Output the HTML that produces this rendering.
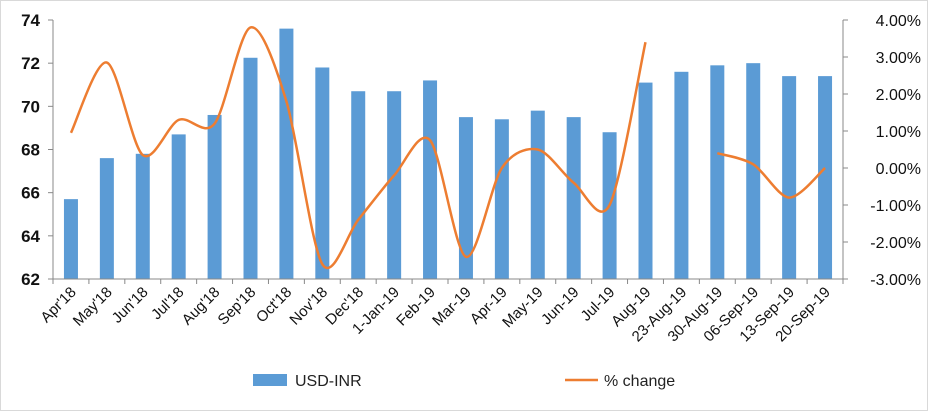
<!DOCTYPE html>
<html><head><meta charset="utf-8"><style>
body{margin:0;background:#fff;font-family:"Liberation Sans",sans-serif}
svg text{font-family:"Liberation Sans",sans-serif}
</style></head><body>
<svg width="928" height="411">
<rect x="0.5" y="0.5" width="927" height="410" fill="#fff" stroke="#d9d9d9"/>
<g id="bars"></g><g id="axes"></g><path id="line1" fill="none" stroke="#ed7d31" stroke-width="2.5"/>
<path id="line2" fill="none" stroke="#ed7d31" stroke-width="2.5"/>
<g>
<rect x="253" y="374" width="34" height="12" fill="#5b9bd5"/>
<text x="295" y="386" font-size="16" fill="#222">USD-INR</text>
<line x1="565" y1="380" x2="598" y2="380" stroke="#ed7d31" stroke-width="2.5"/>
<text x="604" y="386" font-size="16" fill="#222">% change</text>
</g>
</svg>
<script>
const categories=["Apr'18","May'18","Jun'18","Jul'18","Aug'18","Sep'18","Oct'18","Nov'18","Dec'18","1-Jan-19","Feb-19","Mar-19","Apr-19","May-19","Jun-19","Jul-19","Aug-19","23-Aug-19","30-Aug-19","06-Sep-19","13-Sep-19","20-Sep-19"];
const usdInr=[65.7,67.6,67.8,68.7,69.6,72.25,73.6,71.8,70.7,70.7,71.2,69.5,69.4,69.8,69.5,68.8,71.1,71.6,71.9,72.0,71.4,71.4];
const pctChange=[0.95,2.85,0.35,1.3,1.2,3.8,1.8,-2.6,-1.4,-0.2,0.75,-2.4,0.0,0.5,-0.4,-1.0,3.4,null,0.4,0.1,-0.8,0.0];
const leftTicks=[62,64,66,68,70,72,74];
const rightTicks=[-3,-2,-1,0,1,2,3,4];
const NS="http://www.w3.org/2000/svg";
const X0=53,X1=843,YT=20,YB=279;
const step=(X1-X0)/categories.length;
const xc=i=>X0+step*(i+0.5);
const yL=v=>YB-(v-62)/12*(YB-YT);
const yR=v=>YB-(v+3)/7*(YB-YT);
function mk(tag,attrs,parent,txt){const e=document.createElementNS(NS,tag);for(const k in attrs)e.setAttribute(k,attrs[k]);if(txt!=null)e.textContent=txt;document.getElementById(parent).appendChild(e);return e;}
usdInr.forEach((v,i)=>{const r=mk('rect',{x:xc(i)-7,y:yL(v),width:14,height:YB-yL(v),fill:'#5b9bd5'},'bars');

});
let l=mk('path',{d:`M${X0} ${YT}V${YB}H${X1}V${YT}`,stroke:'#888',fill:'none'},'axes');


leftTicks.forEach(t=>{mk('line',{x1:X0-5,x2:X0,y1:yL(t),y2:yL(t),stroke:'#888'},'axes');
const e=mk('text',{x:X0-13,y:yL(t)+6,'font-size':17,'font-weight':'bold','text-anchor':'end',fill:'#111'},'axes',t);

});
rightTicks.forEach(t=>{mk('line',{x1:X1,x2:X1+5,y1:yR(t),y2:yR(t),stroke:'#888'},'axes');
const e=mk('text',{x:X1+78,y:yR(t)+6,'font-size':16,'text-anchor':'end',fill:'#111'},'axes',t.toFixed(2)+'%');

});
categories.forEach((c,i)=>{mk('line',{x1:X0+step*i,x2:X0+step*i,y1:YB,y2:YB+5,stroke:'#888'},'axes');
const x=xc(i)+6,y=YB+14;
const e=mk('text',{x:x,y:y,'font-size':15,'text-anchor':'end',fill:'#111',transform:`rotate(-45 ${x} ${y})`},'axes',c);

});
mk('line',{x1:X1,x2:X1,y1:YB,y2:YB+5,stroke:'#888'},'axes');
function smooth(pts){let d=`M${pts[0][0]} ${pts[0][1]}`;for(let i=0;i<pts.length-1;i++){const p0=pts[i-1]||pts[i],p1=pts[i],p2=pts[i+1],p3=pts[i+2]||p2;const t=0.3;
d+=` C${p1[0]+(p2[0]-p0[0])*t/2} ${p1[1]+(p2[1]-p0[1])*t/2} ${p2[0]-(p3[0]-p1[0])*t/2} ${p2[1]-(p3[1]-p1[1])*t/2} ${p2[0]} ${p2[1]}`;}return d;}
const segs=[];let cur=[];pctChange.forEach((v,i)=>{if(v==null){if(cur.length)segs.push(cur);cur=[];}else cur.push([xc(i),yR(v)]);});if(cur.length)segs.push(cur);
document.getElementById('line1').setAttribute('d',smooth(segs[0]));
if(segs[1])document.getElementById('line2').setAttribute('d',smooth(segs[1]));
</script>
</body></html>
